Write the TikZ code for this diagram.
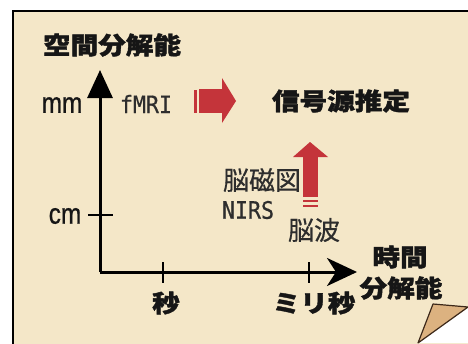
\documentclass[tikz,border=0pt]{standalone}
\usepackage{fontspec}
\usetikzlibrary{arrows.meta}
\newfontfamily\cjkb[FakeStretch=1.15,FakeBold=1.6]{Noto Sans CJK JP}
\newfontfamily\cjkn[FakeBold=0.5]{Noto Sans CJK JP}
\newfontfamily\latn[FakeStretch=0.84,FakeBold=0.8]{Liberation Sans}
\newfontfamily\monof[FakeStretch=0.9,FakeBold=0.6]{DejaVu Sans Mono}
\definecolor{paper}{RGB}{244,231,200}
\definecolor{arrowred}{RGB}{196,52,58}
\definecolor{inkc}{RGB}{22,22,22}
\definecolor{curlc}{RGB}{220,178,128}
\definecolor{curledge}{RGB}{60,40,25}
\begin{document}
\begin{tikzpicture}[x=1pt,y=-1pt,
  boldlbl/.style={font=\cjkb\bfseries\fontsize{24}{24}\selectfont, text=inkc, inner sep=0pt},
  plainlbl/.style={font=\cjkn\fontsize{26}{26}\selectfont, text=inkc!90, inner sep=0pt},
  unitlbl/.style={font=\latn\fontsize{29}{29}\selectfont, text=inkc, inner sep=0pt},
  modallbl/.style={font=\monof\fontsize{24}{24}\selectfont, text=inkc!90, inner sep=0pt},
  axisline/.style={line width=3pt, draw=black},
  tickline/.style={line width=1.6pt, draw=black},
  redfill/.style={fill=arrowred, draw=none}]
\useasboundingbox (0,0) rectangle (468,343);
\fill[white] (0,0) rectangle (468,343);
\draw[line width=2pt, fill=paper] (13,11) rectangle (480,355);

% axes
\coordinate (O) at (100,272);
\coordinate (ytip) at (100,70);
\coordinate (xtip) at (357,272);
\draw[axisline, -{Triangle[length=28pt,width=25pt]}] (O) -- (ytip);
\draw[axisline, -{Stealth[length=30pt,width=28pt,inset=9pt]}] (O) -- (xtip);

% ticks
\coordinate (cmL) at (88,215); \coordinate (cmR) at (113,215);
\draw[tickline] (cmL) -- (cmR);
\coordinate (s1T) at (163,262); \coordinate (s1B) at (163,283);
\draw[tickline] (s1T) -- (s1B);
\coordinate (s2T) at (309,262); \coordinate (s2B) at (309,283);
\draw[tickline] (s2T) -- (s2B);

% labels
\node[boldlbl] (title) at (112,45) {空間分解能};
\node[unitlbl] (mm) at (62,105) {mm};
\node[unitlbl] (cm) at (65,216) {cm};
\node[modallbl] (fmri) at (146,104) {fMRI};
\node[boldlbl] (goal) at (341,101) {信号源推定};
\node[plainlbl] (meg) at (262,180) {脳磁図};
\node[modallbl] (nirs) at (248,210) {NIRS};
\node[plainlbl] (eeg) at (314,230) {脳波};
\node[boldlbl] (sec) at (166,303) {秒};
\node[boldlbl] (msec) at (314,303) {ミリ秒};
\node[boldlbl] (tres1) at (400,257) {時間};
\node[boldlbl] (tres2) at (401,288) {分解能};

% red right arrow
\fill[redfill] (194,90) rectangle (197,113);
\fill[redfill] (199,89) rectangle (222,113);
\fill[redfill] (222,78) -- (236,101) -- (222,123) -- cycle;

% red up arrow
\fill[redfill] (293,157) -- (310,142) -- (328,157) -- cycle;
\fill[redfill] (303,157) rectangle (318,197);
\fill[redfill] (303,200) rectangle (318,202);
\fill[redfill] (303,205) rectangle (318,207);

% page curl
\fill[white] (418,343) -- (468,308) -- (468,343) -- cycle;
\draw[fill=curlc, draw=curledge, line width=1.2pt, line join=round] (418,343) -- (433,304) -- (468,307) -- cycle;
\end{tikzpicture}
\end{document}
